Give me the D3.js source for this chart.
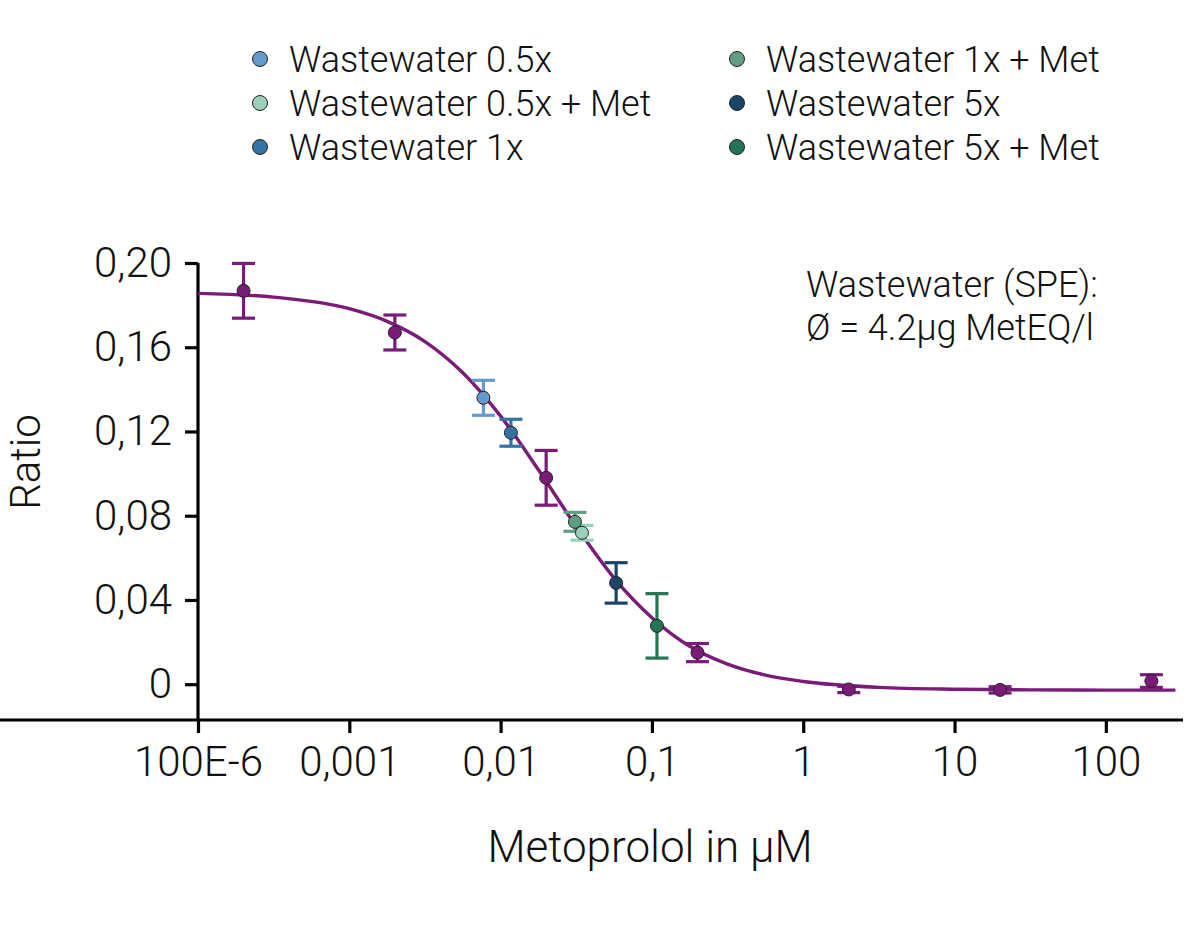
<!DOCTYPE html>
<html>
<head>
<meta charset="utf-8">
<script src="https://cdn.jsdelivr.net/npm/d3@7"></script>
<style>
  html, body { margin: 0; padding: 0; background: #fff; }
  svg text { font-family: Roboto, "Open Sans", sans-serif; font-weight: 300; fill: #111; }
</style>
</head>
<body>
<svg id="chart" width="1200" height="926"></svg>
<script>
// ---- data ----
const standardConc  = [0.0002, 0.002, 0.02, 0.2, 2, 20, 200];
const standardRatio = [0.1868, 0.1670, 0.0980, 0.0150, -0.0025, -0.0027, 0.0015];
const standardErr   = [0.0130, 0.0083, 0.0130, 0.0043, 0.0015, 0.0015, 0.0030];

const sampleNames  = ["Wastewater 0.5x", "Wastewater 0.5x + Met", "Wastewater 1x",
                      "Wastewater 1x + Met", "Wastewater 5x", "Wastewater 5x + Met"];
const sampleColors = ["#6699cc", "#99d0b9", "#3473a4", "#5e9e82", "#1b4468", "#247553"];
const sampleConc   = [0.0077, 0.0345, 0.0117, 0.031, 0.058, 0.108];
const sampleRatio  = [0.1360, 0.0719, 0.1194, 0.0771, 0.0481, 0.0277];
const sampleErr    = [0.0083, 0.0035, 0.0064, 0.0045, 0.0096, 0.0153];

// fitted curve (log10 concentration, ratio)
const curveLogConc = [-4, -3.5, -3, -2.75, -2.5, -2.25, -2, -1.75, -1.5, -1.25, -1, -0.75, -0.5, -0.25, 0, 0.5, 1, 1.5, 2, 2.46];
const curveRatio   = [0.1856, 0.1838, 0.1783, 0.1723, 0.1627, 0.1479, 0.1273, 0.1018, 0.0748, 0.0504, 0.0316, 0.0180, 0.0095, 0.0043, 0.0013, -0.0015, -0.0024, -0.0027, -0.0028, -0.0028];

const xTickValues = [1e-4, 1e-3, 1e-2, 1e-1, 1, 10, 100];
const xTickLabels = ["100E-6", "0,001", "0,01", "0,1", "1", "10", "100"];
const yTickValues = [0, 0.04, 0.08, 0.12, 0.16, 0.20];
const yTickLabels = ["0", "0,04", "0,08", "0,12", "0,16", "0,20"];

const curveColor = "#7a1b79";

// ---- layout ----
const svg = d3.select("#chart");
const x = d3.scaleLog().domain([1e-4, Math.pow(10, 2.51)]).range([198, 1183]);
const y = d3.scaleLinear().domain([-0.017, 0.2]).range([720, 263]);

const fontSize = 36;
const tickFont = 42;
const titleFont = 44;

// x axis
const xAxis = d3.axisBottom(x).tickValues(xTickValues)
  .tickFormat((d, i) => xTickLabels[i]).tickSize(13).tickPadding(13).tickSizeOuter(0);
const gx = svg.append("g").attr("transform", `translate(0,${y(-0.017)})`).call(xAxis);
// y axis
const yAxis = d3.axisLeft(y).tickValues(yTickValues)
  .tickFormat((d, i) => yTickLabels[i]).tickSize(13).tickPadding(13).tickSizeOuter(0);
const gy = svg.append("g").attr("transform", `translate(${x(1e-4)},0)`).call(yAxis);

[gx, gy].forEach(g => {
  g.attr("font-size", tickFont).attr("font-family", "Roboto, sans-serif");
  g.select(".domain").attr("stroke", "#000").attr("stroke-width", 3.2);
  g.selectAll(".tick line").attr("stroke", "#000").attr("stroke-width", 3.2);
  g.selectAll(".tick text").attr("font-size", tickFont).attr("fill", "#111")
    .attr("font-weight", 300);
});
// y axis domain runs from the top tick down to the x-axis
gy.select(".domain").attr("d", `M0,${y(0.2)}V${y(-0.017)}`);
gx.select(".domain").attr("d", `M${-1.6},0H${x(Math.pow(10, 2.51))}`);

// axis titles
svg.append("text").attr("x", 650).attr("y", 862).attr("text-anchor", "middle")
  .attr("font-size", titleFont).text("Metoprolol in µM");
svg.append("text").attr("transform", "translate(40,462) rotate(-90)")
  .attr("text-anchor", "middle").attr("font-size", 42).text("Ratio");

// fitted curve
const line = d3.line().x(d => x(Math.pow(10, d))).y((d, i) => y(curveRatio[i]))
  .curve(d3.curveMonotoneX);
svg.append("path").attr("d", line(curveLogConc)).attr("fill", "none")
  .attr("stroke", curveColor).attr("stroke-width", 3.4);

// error bars + points
function drawPoints(conc, ratio, err, colorOf) {
  const g = svg.append("g");
  const cap = 11.5;
  conc.forEach((c, i) => {
    const cx = x(c), col = colorOf(i);
    const yt = y(ratio[i] + err[i]), yb = y(ratio[i] - err[i]);
    g.append("line").attr("x1", cx).attr("x2", cx).attr("y1", yt).attr("y2", yb)
      .attr("stroke", col).attr("stroke-width", 3.2);
    g.append("line").attr("x1", cx - cap).attr("x2", cx + cap).attr("y1", yt).attr("y2", yt)
      .attr("stroke", col).attr("stroke-width", 3.2);
    g.append("line").attr("x1", cx - cap).attr("x2", cx + cap).attr("y1", yb).attr("y2", yb)
      .attr("stroke", col).attr("stroke-width", 3.2);
  });
  conc.forEach((c, i) => {
    g.append("circle").attr("cx", x(c)).attr("cy", y(ratio[i])).attr("r", 6.5)
      .attr("fill", colorOf(i)).attr("stroke", "#222").attr("stroke-width", 1);
  });
}
drawPoints(standardConc, standardRatio, standardErr, () => curveColor);
drawPoints(sampleConc, sampleRatio, sampleErr, i => sampleColors[i]);

// annotation
const ann = svg.append("text").attr("font-size", fontSize);
ann.append("tspan").attr("x", 806).attr("y", 297).text("Wastewater (SPE):");
ann.append("tspan").attr("x", 806).attr("y", 340).text("Ø = 4.2µg MetEQ/l");

// legend
const legendCols = [260, 737];
const legendRows = [59, 103, 147];
sampleNames.forEach((name, i) => {
  const col = Math.floor(i / 3), row = i % 3;
  const lx = legendCols[col], ly = legendRows[row];
  svg.append("circle").attr("cx", lx).attr("cy", ly).attr("r", 7.5)
    .attr("fill", sampleColors[i]).attr("stroke", "#222").attr("stroke-width", 1);
  svg.append("text").attr("x", lx + 29).attr("y", ly).attr("dy", "0.36em")
    .attr("font-size", fontSize).text(name);
});
</script>
</body>
</html>
